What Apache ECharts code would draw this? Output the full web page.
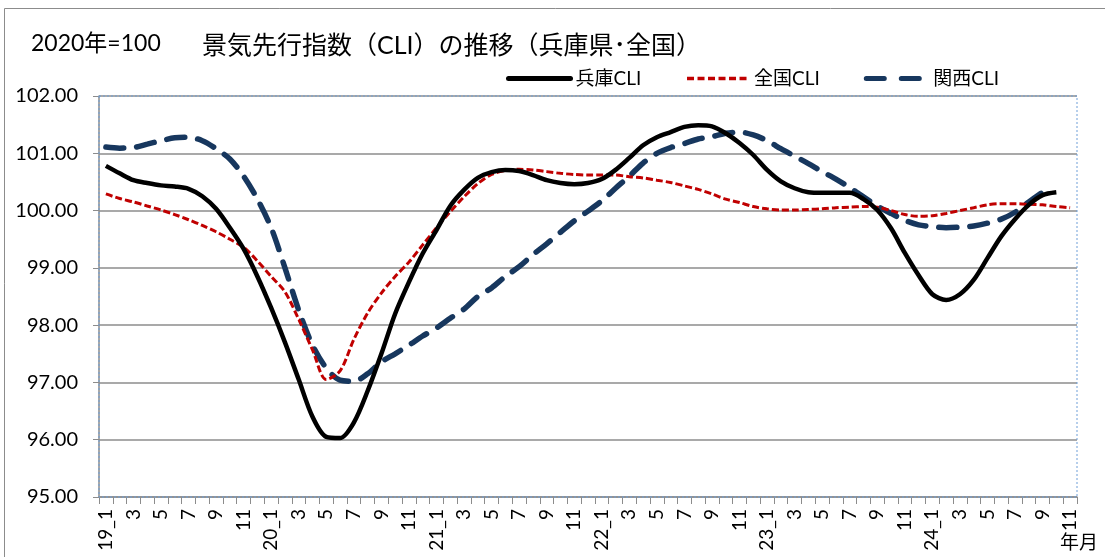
<!DOCTYPE html>
<html>
<head>
<meta charset="utf-8">
<script src="https://cdn.jsdelivr.net/npm/echarts@6/dist/echarts.min.js"></script>
<style>
html,body{margin:0;padding:0;background:#fff;}
#c{width:1105px;height:557px;}
</style>
</head>
<body>
<div id="c"></div>
<script>
var months = [
'19_1','2','3','4','5','6','7','8','9','10','11','12',
'20_1','2','3','4','5','6','7','8','9','10','11','12',
'21_1','2','3','4','5','6','7','8','9','10','11','12',
'22_1','2','3','4','5','6','7','8','9','10','11','12',
'23_1','2','3','4','5','6','7','8','9','10','11','12',
'24_1','2','3','4','5','6','7','8','9','10','11'
];
var yTicks = [95, 96, 97, 98, 99, 100, 101, 102];

var hyogo = [
100.78,100.65,100.53,100.48,100.44,100.42,100.38,100.25,100.03,99.70,99.33,98.85,
98.30,97.70,97.05,96.40,96.05,96.03,96.30,96.85,97.50,98.20,98.75,99.25,
99.66,100.08,100.36,100.57,100.67,100.71,100.69,100.62,100.53,100.48,100.46,100.48,
100.55,100.71,100.92,101.14,101.28,101.37,101.46,101.49,101.47,101.35,101.18,100.97,
100.71,100.51,100.39,100.32,100.31,100.31,100.31,100.20,100.01,99.69,99.26,98.87,
98.54,98.44,98.54,98.79,99.17,99.55,99.85,100.10,100.27,100.32,null
];
var zenkoku = [
100.29,100.21,100.15,100.08,100.01,99.93,99.84,99.74,99.63,99.50,99.36,99.12,
98.85,98.58,98.10,97.57,97.05,97.20,97.75,98.21,98.56,98.85,99.10,99.40,
99.70,99.98,100.24,100.47,100.63,100.70,100.72,100.71,100.68,100.65,100.63,100.62,
100.62,100.62,100.59,100.57,100.53,100.49,100.43,100.37,100.29,100.20,100.14,100.07,
100.03,100.01,100.01,100.02,100.03,100.05,100.06,100.07,100.06,100.00,99.93,99.90,
99.91,99.95,100.00,100.05,100.10,100.12,100.12,100.11,100.10,100.07,100.05
];
var kansai = [
101.11,101.09,101.10,101.16,101.22,101.27,101.28,101.22,101.08,100.90,100.60,100.20,
99.70,99.00,98.26,97.65,97.25,97.04,97.02,97.15,97.36,97.50,97.65,97.81,
97.95,98.12,98.28,98.50,98.65,98.85,99.02,99.23,99.42,99.62,99.82,99.99,
100.17,100.39,100.60,100.83,101.00,101.10,101.17,101.25,101.29,101.35,101.37,101.32,
101.22,101.08,100.95,100.82,100.68,100.55,100.40,100.24,100.08,99.95,99.83,99.75,
99.72,99.70,99.71,99.73,99.78,99.85,99.97,100.15,100.32,null,null
];

var FF = 'Lato, "Noto Sans CJK JP", sans-serif';
var chart = echarts.init(document.getElementById('c'));
chart.setOption({
  animation: false,
  backgroundColor: '#fff',
  title: {
    text: '景気先行指数（CLI）の推移（兵庫県･全国）',
    left: 197, top: 28,
    textStyle: { fontFamily: FF, fontSize: 25, fontWeight: 'normal', color: '#000' }
  },
  legend: {
    left: 501, top: 64,
    itemWidth: 62, itemHeight: 16, itemGap: 44,
    itemStyle: { opacity: 0 },
    textStyle: { fontFamily: FF, fontSize: 19, color: '#000' },
    data: [
      { name: '兵庫CLI', lineStyle: { width: 5, type: 'solid', cap: 'round' } },
      { name: '全国CLI', lineStyle: { width: 3.5, type: [7, 3.5] } },
      { name: '関西CLI', lineStyle: { width: 5, type: [18, 17], cap: 'round' } }
    ]
  },
  grid: { left: 99, right: 28, top: 96, bottom: 60, containLabel: false },
  xAxis: {
    type: 'category',
    data: months,
    boundaryGap: true,
    axisLine: { lineStyle: { color: '#8c8c8c', width: 1.5 } },
    axisTick: { show: true, interval: 0, length: 7, alignWithLabel: false, lineStyle: { color: '#8c8c8c' } },
    axisLabel: { interval: 1, rotate: 90, margin: 12, fontFamily: FF, fontSize: 19, color: '#000' },
    splitLine: { show: false }
  },
  yAxis: {
    type: 'value',
    min: yTicks[0], max: yTicks[yTicks.length - 1], interval: 1,
    axisLine: { show: true, lineStyle: { color: '#8c8c8c', width: 1.5 } },
    axisTick: { show: true, length: 6, lineStyle: { color: '#8c8c8c' } },
    axisLabel: { margin: 21, fontFamily: FF, fontSize: 20, color: '#000',
      formatter: function (v) { return v.toFixed(2); } },
    splitLine: { show: true, lineStyle: { color: '#8c8c8c', width: 1.5 } }
  },
  series: [
    { name: '兵庫CLI', type: 'line', data: hyogo, smooth: 0.3, symbol: 'none', z: 5,
      lineStyle: { color: '#000', width: 4.5 }, itemStyle: { color: '#000' } },
    { name: '全国CLI', type: 'line', data: zenkoku, smooth: 0.3, symbol: 'none', z: 4,
      lineStyle: { color: '#C00000', width: 3, type: [7, 3] }, itemStyle: { color: '#C00000' } },
    { name: '関西CLI', type: 'line', data: kansai, smooth: 0.3, symbol: 'none', z: 3,
      lineStyle: { color: '#17375E', width: 5.5, type: [18, 13], cap: 'round' }, itemStyle: { color: '#17375E' } }
  ],
  graphic: [
    { type: 'rect', z: 0, silent: true,
      shape: { x: 4.5, y: 8.5, width: 1200, height: 600 },
      style: { fill: 'none', stroke: '#8c8c8c', lineWidth: 1 } },
    { type: 'rect', z: 100, silent: true,
      shape: { x: 99, y: 96, width: 978, height: 401 },
      style: { fill: 'none', stroke: '#6f9fd8', lineWidth: 1, lineDash: [2, 2] } },
    { type: 'text', left: 31, top: 32, silent: true,
      style: { text: '2020年=100', font: '23px ' + FF, fill: '#000' } },
    { type: 'text', left: 1060, top: 533, silent: true,
      style: { text: '年月', font: '19px ' + FF, fill: '#000' } }
  ]
});
</script>
</body>
</html>
